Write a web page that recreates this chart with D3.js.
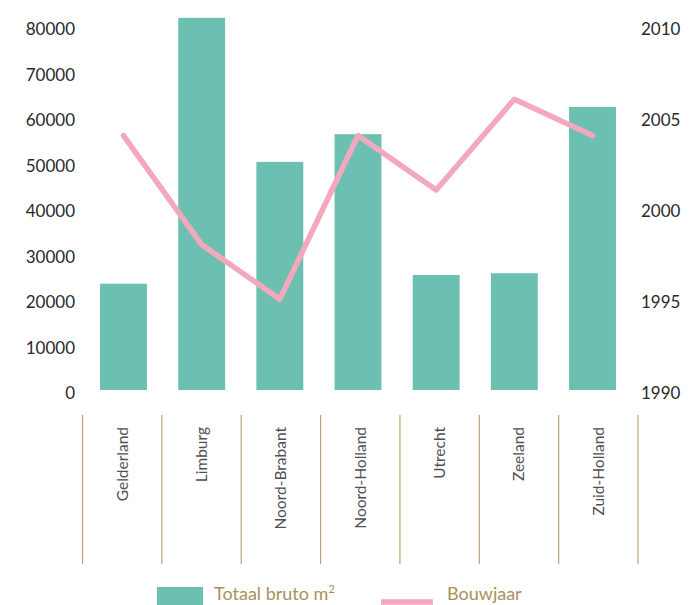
<!DOCTYPE html>
<html>
<head>
<meta charset="utf-8">
<script src="https://cdn.jsdelivr.net/npm/d3@7"></script>
<style>
  html, body { margin: 0; padding: 0; background: #ffffff; }
  svg { display: block; font-family: Lato, "Open Sans", sans-serif; }
</style>
</head>
<body>
<svg id="chart" width="690" height="605"></svg>
<script>
// Provinces and their values
const categories = ["Gelderland", "Limburg", "Noord-Brabant", "Noord-Holland", "Utrecht", "Zeeland", "Zuid-Holland"];
const totaalBruto = [23400, 81900, 50200, 56300, 25300, 25700, 62300];
const bouwjaar = [2004, 1998, 1995, 2004, 2001, 2006, 2004];
const leftTicks = [0, 10000, 20000, 30000, 40000, 50000, 60000, 70000, 80000];
const rightTicks = [1990, 1995, 2000, 2005, 2010];

const svg = d3.select("#chart");

const yTop = 26.5, yBottom = 390;
const yLeft = d3.scaleLinear().domain([0, 80000]).range([yBottom, yTop]);
const yRight = d3.scaleLinear().domain([1990, 2010]).range([yBottom, yTop]);

// bar placement
const xBars = d3.scaleBand().domain(categories).range([84.4, 631.6])
  .paddingInner(0.4).paddingOuter(0.2);
// category axis cells
const xCells = d3.scaleBand().domain(categories).range([82.5, 638]).padding(0);

// bars
svg.append("g").selectAll("rect")
  .data(categories)
  .join("rect")
  .attr("x", (d) => xBars(d))
  .attr("width", xBars.bandwidth())
  .attr("y", (d, i) => yLeft(totaalBruto[i]))
  .attr("height", (d, i) => yLeft(0) - yLeft(totaalBruto[i]))
  .attr("fill", "#6cc0b1");

// line
const line = d3.line()
  .x((d, i) => xBars(categories[i]) + xBars.bandwidth() / 2)
  .y((d) => yRight(d));
svg.append("path")
  .datum(bouwjaar)
  .attr("d", line)
  .attr("fill", "none")
  .attr("stroke", "#f3a8bd")
  .attr("stroke-width", 5.5)
  .attr("stroke-linecap", "round")
  .attr("stroke-linejoin", "round");

// left axis
const leftAxis = d3.axisLeft(yLeft).tickValues(leftTicks).tickSize(0).tickPadding(0)
  .tickFormat(d3.format("d"));
const gl = svg.append("g").attr("transform", "translate(75,3)").call(leftAxis);
gl.select(".domain").remove();
gl.selectAll("text").attr("fill", "#2a2a2a").style("font-size", "17px")
  .style("font-family", "Lato, sans-serif");

// right axis
const rightAxis = d3.axisRight(yRight).tickValues(rightTicks).tickSize(0).tickPadding(0)
  .tickFormat(d3.format("d"));
const gr = svg.append("g").attr("transform", "translate(641,3)").call(rightAxis);
gr.select(".domain").remove();
gr.selectAll("text").attr("fill", "#2a2a2a").style("font-size", "17px")
  .style("font-family", "Lato, sans-serif");

// category separators
const sepX = categories.map((d) => xCells(d)).concat([xCells.range()[1]]);
svg.append("g").selectAll("line")
  .data(sepX)
  .join("line")
  .attr("x1", (d) => d).attr("x2", (d) => d)
  .attr("y1", 415).attr("y2", 564)
  .attr("stroke", "#b9a46c")
  .attr("stroke-width", 1.2);

// category labels
svg.append("g").selectAll("text")
  .data(categories)
  .join("text")
  .attr("transform", (d) => `translate(${xCells(d) + xCells.bandwidth() / 2 + 5.5},427) rotate(-90)`)
  .attr("text-anchor", "end")
  .attr("fill", "#505050")
  .style("font-size", "15.5px")
  .text((d) => d);

// legend
const legend = svg.append("g");
legend.append("rect").attr("x", 157).attr("y", 587).attr("width", 46).attr("height", 20)
  .attr("fill", "#6cc0b1");
const lt = legend.append("text").attr("x", 214).attr("y", 600)
  .attr("fill", "#a8915a").style("font-size", "18px");
lt.append("tspan").text("Totaal bruto m");
lt.append("tspan").attr("dy", -7).style("font-size", "11px").text("2");
legend.append("line").attr("x1", 381).attr("x2", 433).attr("y1", 602).attr("y2", 602)
  .attr("stroke", "#f3a8bd").attr("stroke-width", 5.5);
legend.append("text").attr("x", 447).attr("y", 600)
  .attr("fill", "#a8915a").style("font-size", "18px").text("Bouwjaar");
</script>
</body>
</html>
